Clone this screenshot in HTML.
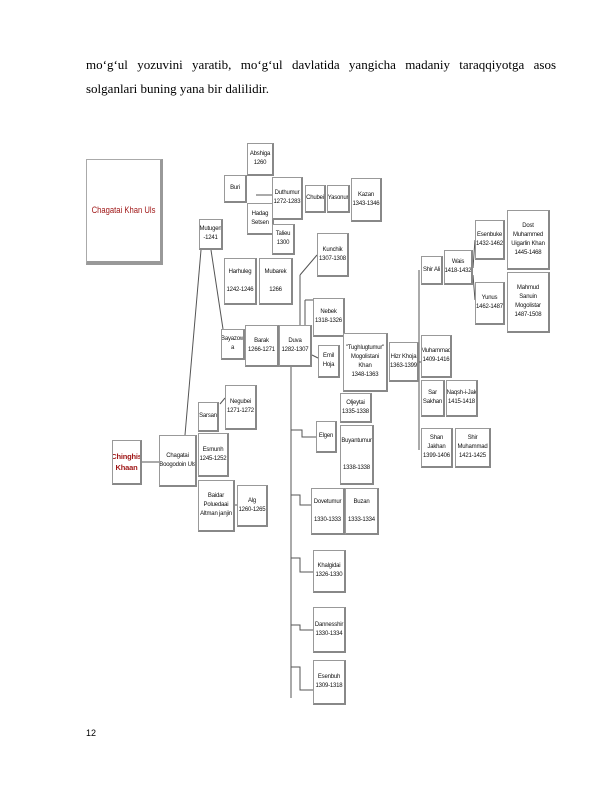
<!DOCTYPE html>
<html><head><meta charset="utf-8"><style>
html,body{margin:0;padding:0;background:#fff;}
body{width:612px;height:792px;position:relative;overflow:hidden;font-family:"Liberation Serif",serif;}
.t{position:absolute;left:86px;width:470px;font-size:13px;color:#000;white-space:nowrap;}
.b{position:absolute;box-sizing:border-box;border:1px solid #999;border-right:2px solid #888;border-bottom:2px solid #888;background:#fff;font-family:"Liberation Sans Narrow","Liberation Sans",sans-serif;font-size:6px;letter-spacing:-0.2px;line-height:9px;color:#111;text-align:center;display:flex;flex-direction:column;justify-content:center;align-items:center;overflow:hidden;white-space:nowrap;}
.r{color:#a01818;font-weight:bold;}
</style></head><body>
<div class="t" style="top:57px;text-align:justify;text-align-last:justify;">mo‘g‘ul yozuvini yaratib, mo‘g‘ul davlatida yangicha madaniy taraqqiyotga asos</div>
<div class="t" style="top:81px;">solganlari buning yana bir dalilidir.</div>

<svg style="position:absolute;left:0;top:0" width="612" height="792">
<g stroke="#555" stroke-width="1" fill="none">
<line x1="142" y1="462" x2="159" y2="462"/>
<line x1="185" y1="435" x2="201" y2="250"/>
<line x1="211" y1="250" x2="223" y2="329"/>
<line x1="220" y1="404" x2="225" y2="398"/>
<line x1="229" y1="505" x2="237" y2="505"/>
<line x1="291" y1="367" x2="291" y2="698"/>
<line x1="300" y1="325" x2="300" y2="275"/><line x1="300" y1="275" x2="317" y2="255"/>
<line x1="305" y1="325" x2="305" y2="300"/><line x1="305" y1="300" x2="313" y2="300"/>
<line x1="312" y1="355" x2="318" y2="358"/>
<polyline points="291,430 302,430 302,437 316,437"/>
<polyline points="291,495 300,495 300,505 311,505"/>
<polyline points="291,558 300,558 300,572 313,572"/>
<polyline points="291,625 300,625 300,630 313,630"/>
<polyline points="291,667 300,667 300,690 313,690"/>
<line x1="419" y1="362" x2="421" y2="362"/>
<line x1="419" y1="270" x2="419" y2="450"/>
<line x1="473" y1="268" x2="475" y2="240"/>
<line x1="473" y1="275" x2="475" y2="300"/>
<line x1="256" y1="195" x2="272" y2="195"/>
</g></svg>

<div class="b" style="left:86px;top:159px;width:77px;height:106px;border-color:#aaa;border-right:3px solid #999;border-bottom:4px solid #999;"><span class="r" style="font-size:9px;font-weight:normal;letter-spacing:0;display:inline-block;transform:scaleX(0.85);">Chagatai Khan Uls</span></div>
<div class="b" style="left:247px;top:143px;width:27px;height:33px;">Abshiga<br>1260</div>
<div class="b" style="left:224px;top:175px;width:23px;height:28px;">Buri</div>
<div class="b" style="left:247px;top:203px;width:27px;height:32px;">Hadag<br>Setsen</div>
<div class="b" style="left:272px;top:177px;width:31px;height:43px;">Duthumur<br>1272-1283</div>
<div class="b" style="left:305px;top:185px;width:21px;height:28px;">Chubei</div>
<div class="b" style="left:327px;top:185px;width:23px;height:28px;">Yasonur</div>
<div class="b" style="left:351px;top:178px;width:31px;height:44px;">Kazan<br>1343-1346</div>
<div class="b" style="left:272px;top:224px;width:23px;height:31px;">Talieu<br>1300</div>
<div class="b" style="left:199px;top:219px;width:24px;height:31px;">Mutugen<br>-1241</div>
<div class="b" style="left:224px;top:258px;width:33px;height:47px;">Harhuleg<br><br>1242-1246</div>
<div class="b" style="left:259px;top:258px;width:34px;height:47px;">Mubarek<br><br>1266</div>
<div class="b" style="left:317px;top:233px;width:32px;height:44px;">Kunchik<br>1307-1308</div>
<div class="b" style="left:313px;top:298px;width:32px;height:39px;">Nebek<br>1318-1326</div>
<div class="b" style="left:221px;top:329px;width:24px;height:31px;">Bayazow<br>a</div>
<div class="b" style="left:245px;top:325px;width:34px;height:42px;">Barak<br>1266-1271</div>
<div class="b" style="left:279px;top:325px;width:33px;height:42px;">Duva<br>1282-1307</div>
<div class="b" style="left:318px;top:345px;width:22px;height:33px;">Emil<br>Hoja</div>
<div class="b" style="left:343px;top:333px;width:45px;height:59px;">"Tughlugtumur"<br>Mogolistani<br>Khan<br>1348-1363</div>
<div class="b" style="left:389px;top:342px;width:30px;height:40px;">Hizr Khoja<br>1363-1399</div>
<div class="b" style="left:421px;top:256px;width:22px;height:29px;">Shir Ali</div>
<div class="b" style="left:444px;top:250px;width:29px;height:35px;">Wais<br>1418-1432</div>
<div class="b" style="left:475px;top:220px;width:30px;height:40px;">Esenbuke<br>1432-1462</div>
<div class="b" style="left:507px;top:210px;width:43px;height:60px;">Dost<br>Muhammed<br>Uigarlin Khan<br>1445-1468</div>
<div class="b" style="left:475px;top:282px;width:30px;height:43px;">Yunus<br>1462-1487</div>
<div class="b" style="left:507px;top:272px;width:43px;height:61px;">Mahmud<br>Sanuin<br>Mogolistar<br>1487-1508</div>
<div class="b" style="left:421px;top:335px;width:31px;height:43px;">Muhammad<br>1409-1416</div>
<div class="b" style="left:421px;top:380px;width:24px;height:37px;">Sar<br>Sakhan</div>
<div class="b" style="left:446px;top:380px;width:32px;height:37px;">Naqsh-i-Jak<br>1415-1418</div>
<div class="b" style="left:421px;top:428px;width:32px;height:40px;">Shan<br>Jakhan<br>1399-1406</div>
<div class="b" style="left:455px;top:428px;width:36px;height:40px;">Shir<br>Muhammad<br>1421-1425</div>
<div class="b" style="left:340px;top:393px;width:32px;height:30px;">Oljeytai<br>1335-1338</div>
<div class="b" style="left:316px;top:421px;width:21px;height:32px;">Elgen</div>
<div class="b" style="left:340px;top:425px;width:34px;height:60px;">Buyantumur<br><br><br>1338-1338</div>
<div class="b" style="left:112px;top:440px;width:30px;height:45px;"><span class="r" style="font-size:7.5px;line-height:11px;">Chinghis<br>Khaan</span></div>
<div class="b" style="left:159px;top:435px;width:38px;height:52px;">Chagatai<br>Boogodoin Uls</div>
<div class="b" style="left:198px;top:402px;width:21px;height:30px;">Sarsan</div>
<div class="b" style="left:225px;top:385px;width:32px;height:45px;">Negubei<br>1271-1272</div>
<div class="b" style="left:198px;top:433px;width:31px;height:44px;">Esmunh<br>1245-1252</div>
<div class="b" style="left:198px;top:480px;width:37px;height:52px;">Baidar<br>Poluedaai<br>Altman janjin</div>
<div class="b" style="left:237px;top:485px;width:31px;height:42px;">Alg<br>1260-1265</div>
<div class="b" style="left:311px;top:488px;width:34px;height:47px;">Dovetumur<br><br>1330-1333</div>
<div class="b" style="left:345px;top:488px;width:34px;height:47px;">Buzan<br><br>1333-1334</div>
<div class="b" style="left:313px;top:550px;width:33px;height:43px;">Khalgidai<br>1326-1330</div>
<div class="b" style="left:313px;top:607px;width:33px;height:46px;">Dannesshir<br>1330-1334</div>
<div class="b" style="left:313px;top:660px;width:33px;height:45px;">Esenbuh<br>1309-1318</div>

<div style="position:absolute;left:86px;top:728px;font-family:'Liberation Sans',sans-serif;font-size:9px;color:#000;">12</div>
</body></html>
